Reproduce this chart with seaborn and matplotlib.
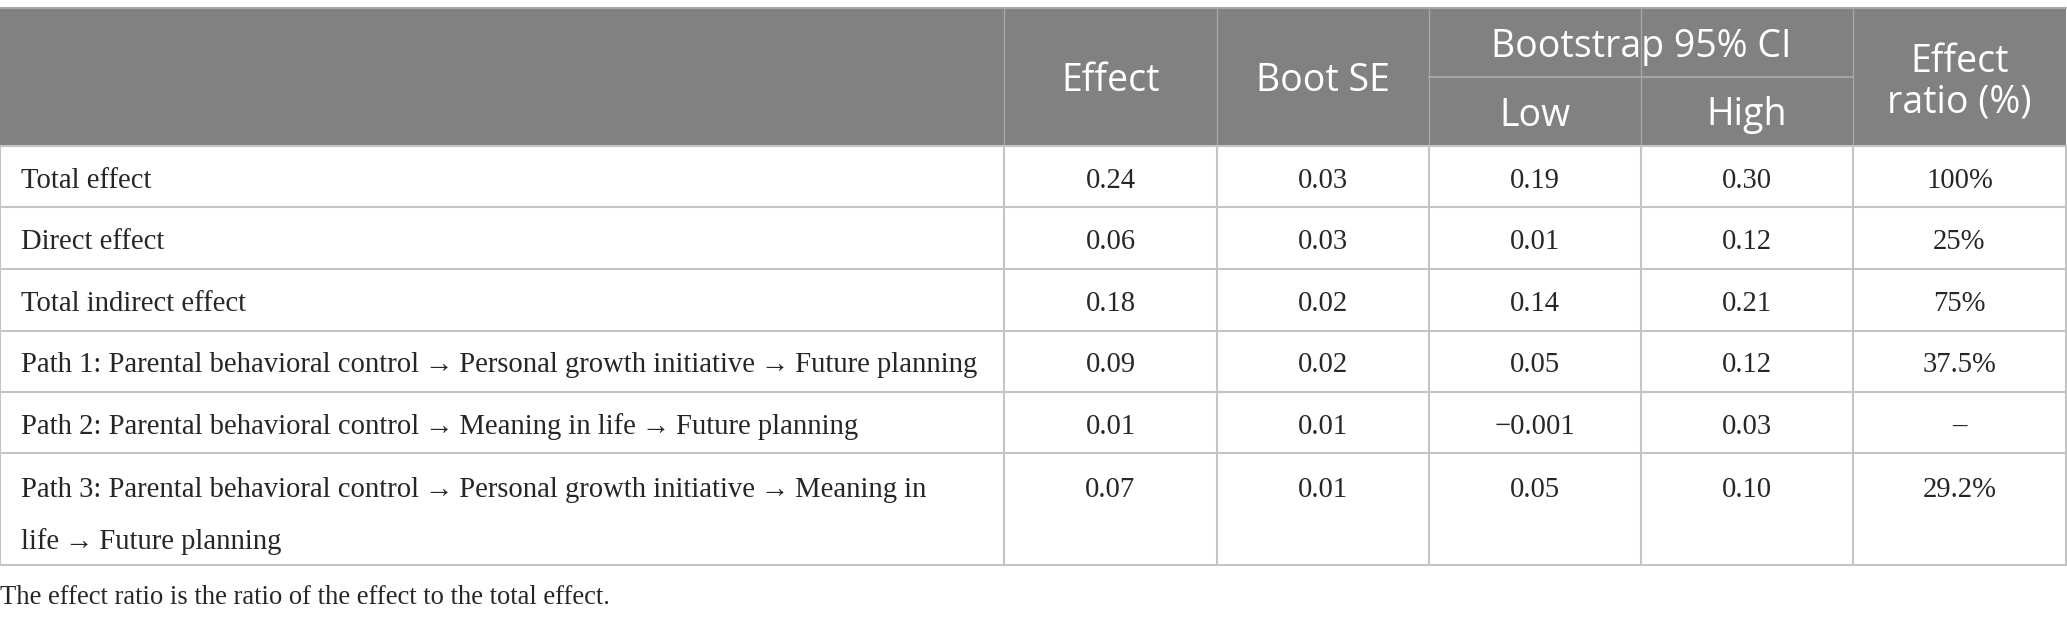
import matplotlib
matplotlib.use("Agg")
import matplotlib.pyplot as plt
import seaborn as sns

sns.set_style("white")

# table content
row_labels = [
    "Total effect",
    "Direct effect",
    "Total indirect effect",
    "Path 1: Parental behavioral control\u2009\u2192\u2009Personal growth initiative\u2009\u2192\u2009Future planning",
    "Path 2: Parental behavioral control\u2009\u2192\u2009Meaning in life\u2009\u2192\u2009Future planning",
    "Path 3: Parental behavioral control\u2009\u2192\u2009Personal growth initiative\u2009\u2192\u2009Meaning in\nlife\u2009\u2192\u2009Future planning",
]
effect = ["0.24", "0.06", "0.18", "0.09", "0.01", "0.07"]
boot_se = ["0.03", "0.03", "0.02", "0.02", "0.01", "0.01"]
ci_low = ["0.19", "0.01", "0.14", "0.05", "\u22120.001", "0.05"]
ci_high = ["0.30", "0.12", "0.21", "0.12", "0.03", "0.10"]
effect_ratio = ["100%", "25%", "75%", "37.5%", "\u2013", "29.2%"]
footnote = "The effect ratio is the ratio of the effect to the total effect."

# layout (pixels)
W, H = 2067, 622
col_x = [0, 1004, 1217, 1429, 1641, 1853, 2066]
head_top, head_mid, head_bot = 8, 77, 146
row_y = [146, 207, 269, 331, 392, 453, 565]

header_bg = "#808180"
grid_col = "#c4c4c4"
serif = ["Liberation Serif", "DejaVu Serif"]
sans = ["Open Sans", "DejaVu Sans"]

fig = plt.figure(figsize=(W / 100, H / 100), dpi=100)
ax = fig.add_axes([0, 0, 1, 1])
ax.set_xlim(0, W)
ax.set_ylim(H, 0)
ax.axis("off")

# header block
ax.add_patch(plt.Rectangle((0, head_top), col_x[-1], head_bot - head_top,
                           facecolor=header_bg, edgecolor="none"))
ax.plot([0, col_x[-1]], [head_top, head_top], color="#a8a8a8", lw=1.5)
for x in col_x[1:-1]:
    ax.plot([x, x], [head_top, head_bot], color="#a6a6a6", lw=1)
ax.plot([col_x[3], col_x[5]], [head_mid, head_mid], color="#a6a6a6", lw=1.5)

hs = 27
hoff = 4
hc = lambda i: (col_x[i] + col_x[i + 1]) / 2


def head(x, y, s):
    ax.text(x, y + hoff, s, ha="center", va="center",
            color="white", fontsize=hs, family=sans)


head(hc(1), (head_top + head_bot) / 2, "Effect")
head(hc(2), (head_top + head_bot) / 2, "Boot SE")
head((col_x[3] + col_x[5]) / 2, (head_top + head_mid) / 2, "Bootstrap 95% CI")
head(hc(3), (head_mid + head_bot) / 2, "Low")
head(hc(4), (head_mid + head_bot) / 2, "High")
head(hc(5), 58, "Effect")
head(hc(5), 99, "ratio (%)")

# body grid
for y in row_y:
    ax.plot([0, col_x[-1]], [y, y], color=grid_col, lw=1.5)
for x in col_x:
    ax.plot([x, x], [head_bot, row_y[-1]], color=grid_col, lw=1.5)

bs = 20.6
boff = 4
columns = [effect, boot_se, ci_low, ci_high, effect_ratio]
for r, label in enumerate(row_labels):
    top, bot = row_y[r], row_y[r + 1]
    lines = label.split("\n")
    if len(lines) == 1:
        yc = (top + bot) / 2 + boff
        ax.text(21, yc, label, ha="left", va="center", fontsize=bs, family=serif)
    else:
        yc = top + 33 + boff
        ax.text(21, yc, lines[0], ha="left", va="center", fontsize=bs, family=serif)
        ax.text(21, yc + 52, lines[1], ha="left", va="center", fontsize=bs, family=serif)
    for c, vals in enumerate(columns):
        ax.text(hc(c + 1), yc, vals[r], ha="center", va="center",
                fontsize=bs, family=serif)

ax.text(0, 598, footnote, ha="left", va="center", fontsize=19.2, family=serif)

fig.savefig("out.png", dpi=100)
